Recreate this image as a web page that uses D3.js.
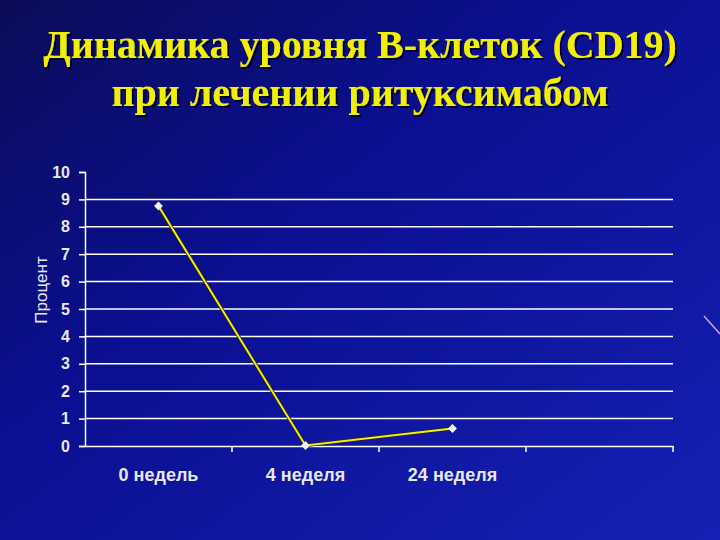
<!DOCTYPE html>
<html>
<head>
<meta charset="utf-8">
<script src="https://cdn.jsdelivr.net/npm/d3@7"></script>
<style>
  html, body { margin: 0; padding: 0; }
  body { width: 720px; height: 540px; overflow: hidden; }
</style>
</head>
<body>
<div id="chart"></div>
<script>
// chart data
const categories = ["0 недель", "4 неделя", "24 неделя", ""];
const values = [8.76, 0.02, 0.64];
const yTicks = [0, 1, 2, 3, 4, 5, 6, 7, 8, 9, 10];
const titleLines = ["Динамика уровня В-клеток (CD19)", "при лечении ритуксимабом"];
const yTitle = "Процент";

const W = 720, H = 540;
const margin = { top: 172, right: 47, bottom: 94, left: 85 };
const width = W - margin.left - margin.right;
const height = H - margin.top - margin.bottom;

const svg = d3.select("#chart").append("svg")
    .attr("width", W)
    .attr("height", H);

// background gradient
const defs = svg.append("defs");
const grad = defs.append("linearGradient")
    .attr("id", "bg")
    .attr("x1", "0%").attr("y1", "0%")
    .attr("x2", "100%").attr("y2", "100%");
grad.append("stop").attr("offset", "0%").attr("stop-color", "#0a0c58");
grad.append("stop").attr("offset", "40%").attr("stop-color", "#0b0f90");
grad.append("stop").attr("offset", "100%").attr("stop-color", "#1520b4");

// drop shadow for the title
defs.append("filter")
    .attr("id", "shadow")
    .append("feDropShadow")
    .attr("dx", 2).attr("dy", 2)
    .attr("stdDeviation", 0.6)
    .attr("flood-color", "#05052a")
    .attr("flood-opacity", 1);

svg.append("rect")
    .attr("width", W).attr("height", H)
    .attr("fill", "url(#bg)");

// small decorative streak on the right edge
svg.append("line")
    .attr("x1", 704).attr("y1", 316).attr("x2", 720).attr("y2", 334)
    .attr("stroke", "#c8a0e0").attr("stroke-width", 1.5);

// title
svg.selectAll(".title")
    .data(titleLines)
    .enter()
    .append("text")
    .attr("class", "title")
    .attr("x", W / 2)
    .attr("y", (d, i) => 58 + i * 48)
    .attr("text-anchor", "middle")
    .attr("font-family", "'Liberation Serif', 'Times New Roman', serif")
    .attr("font-weight", "bold")
    .attr("font-size", 40)
    .attr("fill", "#f0f000")
    .attr("filter", "url(#shadow)")
    .text(d => d);

const g = svg.append("g")
    .attr("transform", "translate(" + margin.left + "," + margin.top + ")");

// scales
const x = d3.scaleBand()
    .domain(categories)
    .range([0, width]);
const y = d3.scaleLinear()
    .domain([0, 10])
    .range([height, 0]);

// gridlines
g.selectAll(".grid")
    .data(yTicks.filter(d => d > 0 && d < 10))
    .enter()
    .append("line")
    .attr("class", "grid")
    .attr("x1", 0).attr("x2", width)
    .attr("y1", d => y(d)).attr("y2", d => y(d))
    .attr("stroke", "#ffffff")
    .attr("stroke-width", 1.5);

// y axis
const yAxis = d3.axisLeft(y)
    .tickValues(yTicks)
    .tickSize(6)
    .tickPadding(9)
    .tickFormat(d3.format("d"));
const yG = g.append("g").attr("class", "axis y-axis").call(yAxis);
yG.select(".domain").attr("stroke", "#ffffff").attr("stroke-width", 1.5);
yG.selectAll(".tick line").attr("stroke", "#ffffff").attr("stroke-width", 1.5);
yG.selectAll(".tick text")
    .attr("fill", "#e8e8f0")
    .attr("font-family", "'Liberation Sans', Arial, sans-serif")
    .attr("font-weight", "bold")
    .attr("font-size", 16);

// x axis
const xAxis = d3.axisBottom(x)
    .tickSize(6)
    .tickPadding(16)
    .tickSizeOuter(0);
const xG = g.append("g")
    .attr("class", "axis x-axis")
    .attr("transform", "translate(0," + height + ")")
    .call(xAxis);
xG.select(".domain").attr("stroke", "#ffffff").attr("stroke-width", 1.5);
// ticks sit between categories
xG.selectAll(".tick line")
    .attr("transform", "translate(" + (x.bandwidth() / 2) + ",0)")
    .attr("stroke", "#ffffff").attr("stroke-width", 1.5);
xG.selectAll(".tick text")
    .attr("fill", "#e8e8f0")
    .attr("font-family", "'Liberation Sans', Arial, sans-serif")
    .attr("font-weight", "bold")
    .attr("font-size", 18);

// y title
svg.append("text")
    .attr("transform", "translate(47,290) rotate(-90)")
    .attr("text-anchor", "middle")
    .attr("font-family", "'Liberation Sans', Arial, sans-serif")
    .attr("font-size", 17)
    .attr("fill", "#e8e8f0")
    .text(yTitle);

// line
const line = d3.line()
    .x((d, i) => x(categories[i]) + x.bandwidth() / 2)
    .y(d => y(d));

g.append("path")
    .datum(values)
    .attr("d", line)
    .attr("fill", "none")
    .attr("stroke", "#202040")
    .attr("stroke-width", 3.5);
g.append("path")
    .datum(values)
    .attr("d", line)
    .attr("fill", "none")
    .attr("stroke", "#f4f000")
    .attr("stroke-width", 2);

// diamond markers
g.selectAll(".marker")
    .data(values)
    .enter()
    .append("path")
    .attr("class", "marker")
    .attr("d", d3.symbol().type(d3.symbolDiamond2).size(50))
    .attr("transform", (d, i) => "translate(" + (x(categories[i]) + x.bandwidth() / 2) + "," + y(d) + ")")
    .attr("fill", "#f4f4f8");
</script>
</body>
</html>
